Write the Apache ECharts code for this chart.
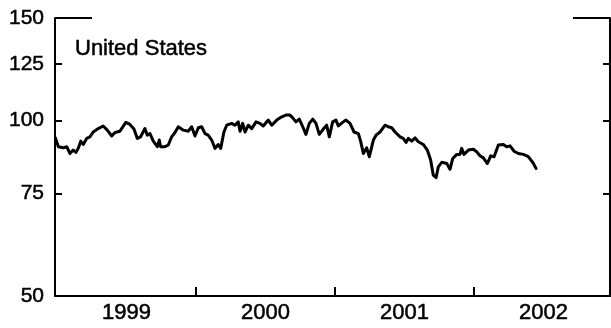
<!DOCTYPE html>
<html>
<head>
<meta charset="utf-8">
<script src="https://cdn.jsdelivr.net/npm/echarts@6/dist/echarts.min.js"></script>
<style>
  html, body { margin: 0; padding: 0; background: #fff; }
  #chart { width: 611px; height: 328px; }
</style>
</head>
<body>
<div id="chart"></div>
<script>
// Weekly index readings, United States (decimal year, index level)
const years = [
  1998.99, 1999.01, 1999.022, 1999.045, 1999.070, 1999.094, 1999.117, 1999.137, 1999.153, 1999.171,
  1999.189, 1999.214, 1999.237, 1999.261, 1999.297, 1999.333, 1999.362, 1999.394, 1999.417, 1999.453,
  1999.496, 1999.525, 1999.554, 1999.578, 1999.602, 1999.633, 1999.650, 1999.669, 1999.693, 1999.722,
  1999.736, 1999.746, 1999.777, 1999.801, 1999.825, 1999.849, 1999.873, 1999.909, 1999.945, 1999.969,
  1999.993, 2000.017, 2000.041, 2000.065, 2000.088, 2000.113, 2000.137, 2000.160, 2000.178, 2000.201,
  2000.221, 2000.257, 2000.281, 2000.304, 2000.317, 2000.336, 2000.353, 2000.376, 2000.401, 2000.432,
  2000.460, 2000.484, 2000.520, 2000.545, 2000.581, 2000.617, 2000.647, 2000.676, 2000.696, 2000.719,
  2000.743, 2000.768, 2000.791, 2000.815, 2000.840, 2000.863, 2000.887, 2000.916, 2000.940, 2000.959,
  2000.983, 2001.007, 2001.024, 2001.055, 2001.079, 2001.108, 2001.137, 2001.168, 2001.185, 2001.204,
  2001.228, 2001.247, 2001.276, 2001.295, 2001.324, 2001.360, 2001.383, 2001.408, 2001.432, 2001.468,
  2001.491, 2001.511, 2001.527, 2001.552, 2001.576, 2001.599, 2001.635, 2001.664, 2001.688, 2001.707,
  2001.727, 2001.743, 2001.768, 2001.804, 2001.827, 2001.847, 2001.876, 2001.899, 2001.911, 2001.928,
  2001.959, 2001.995, 2002.019, 2002.043, 2002.067, 2002.096, 2002.120, 2002.144, 2002.175, 2002.211,
  2002.235, 2002.259, 2002.288, 2002.319, 2002.355, 2002.391, 2002.422, 2002.446
];
const indexValues = [
  93.3, 90.2, 90.5, 89.8, 90.2, 87.8, 89.0, 88.2, 89.6, 92.2,
  91.0, 93.2, 93.8, 95.6, 96.9, 97.9, 96.3, 94.1, 95.4, 95.9,
  99.3, 98.5, 96.7, 93.2, 93.8, 96.9, 94.4, 95.0, 92.2, 90.2,
  92.6, 90.2, 90.2, 90.8, 93.8, 95.4, 97.6, 96.3, 95.9, 97.6,
  94.1, 97.2, 97.6, 95.0, 94.4, 92.6, 89.6, 91.0, 89.6, 95.6,
  98.2, 98.9, 98.2, 99.5, 95.9, 98.9, 95.6, 98.2, 96.9, 99.5,
  98.9, 97.9, 100.2, 98.2, 100.2, 101.5, 102.2, 102.2, 101.1, 99.5,
  100.6, 97.6, 94.7, 98.9, 100.6, 98.9, 94.7, 96.7, 98.2, 93.8,
  99.5, 100.2, 97.9, 99.3, 100.2, 98.9, 95.6, 95.0, 92.0, 87.8,
  89.8, 86.7, 92.6, 94.4, 95.6, 98.2, 97.6, 97.2, 95.6, 93.8,
  93.2, 91.7, 93.2, 92.2, 93.4, 92.0, 91.0, 89.0, 85.6, 80.6,
  79.8, 83.3, 84.8, 84.4, 82.5, 86.1, 87.5, 87.5, 89.6, 87.5,
  89.0, 89.3, 88.4, 87.0, 86.3, 84.4, 87.0, 86.7, 90.8, 91.0,
  90.2, 90.5, 88.6, 87.8, 87.5, 86.7, 84.8, 82.8
];
const yTicks = [50, 75, 100, 125, 150];
const innerTicks = [75, 100, 125];
const yearLabels = [1999, 2000, 2001, 2002];

const FONT = "'Liberation Sans', Arial, Helvetica, sans-serif";
// slight outline gives the heavier print weight of the labels
const INK = { color: '#000', fontFamily: FONT, textBorderColor: '#000', textBorderWidth: 0.5 };
const lg = Math.log10;

// Ratio scale: plot log10 of the index on a linear axis
const seriesData = years.map((t, i) => [t, lg(indexValues[i])]);
const yMin = lg(yTicks[0]);
const yMax = lg(yTicks[yTicks.length - 1]);

const xMin = 1998.986, xMax = 2002.978;

function yAxisBase(position) {
  return {
    type: 'value', position: position, min: yMin, max: yMax,
    splitLine: { show: false },
    axisLine: { show: false },
    axisTick: { show: false },
    axisLabel: { show: false }
  };
}

const leftAxis = Object.assign(yAxisBase('left'), {
  axisLine: { show: true, lineStyle: { color: '#000', width: 2 } },
  axisTick: { show: true, inside: true, length: 7, customValues: innerTicks.map(lg),
              lineStyle: { color: '#000', width: 2 } },
  axisLabel: Object.assign({ show: true, customValues: yTicks.map(lg), margin: 11, fontSize: 21,
               formatter: v => String(Math.round(Math.pow(10, v))) }, INK)
});
const rightAxis = Object.assign(yAxisBase('right'), {
  axisLine: { show: true, lineStyle: { color: '#000', width: 2 } },
  axisTick: { show: true, inside: true, length: 7, customValues: innerTicks.map(lg),
              lineStyle: { color: '#000', width: 2 } }
});
// Short top-corner rules at the 150 level on both sides
const leftCap = Object.assign(yAxisBase('left'), {
  axisTick: { show: true, inside: true, length: 37, customValues: [yMax],
              lineStyle: { color: '#000', width: 2 } }
});
const rightCap = Object.assign(yAxisBase('right'), {
  axisTick: { show: true, inside: true, length: 37, customValues: [yMax],
              lineStyle: { color: '#000', width: 2 } }
});

const chart = echarts.init(document.getElementById('chart'), null, { renderer: 'canvas' });
chart.setOption({
  animation: false,
  backgroundColor: '#fff',
  title: {
    text: 'United States', left: 75, top: 38, padding: 0,
    textStyle: Object.assign({ fontSize: 22, fontWeight: 'normal' }, INK)
  },
  grid: { left: 55, right: 1, top: 18, bottom: 32, containLabel: false },
  xAxis: {
    type: 'value', min: xMin, max: xMax,
    splitLine: { show: false },
    axisLine: { show: true, onZero: false, lineStyle: { color: '#000', width: 2 } },
    axisTick: { show: true, inside: true, length: 9, customValues: yearLabels.slice(1),
                lineStyle: { color: '#000', width: 2 } },
    axisLabel: Object.assign({ show: true, customValues: yearLabels.map(y => y + 0.5), margin: 6,
                 fontSize: 22, formatter: v => String(Math.floor(v)) }, INK)
  },
  yAxis: [leftAxis, rightAxis, leftCap, rightCap],
  series: [{
    type: 'line', yAxisIndex: 0, data: seriesData,
    showSymbol: false, smooth: false,
    lineStyle: { color: '#000', width: 3, join: 'round', cap: 'round' }
  }]
});
</script>
</body>
</html>
